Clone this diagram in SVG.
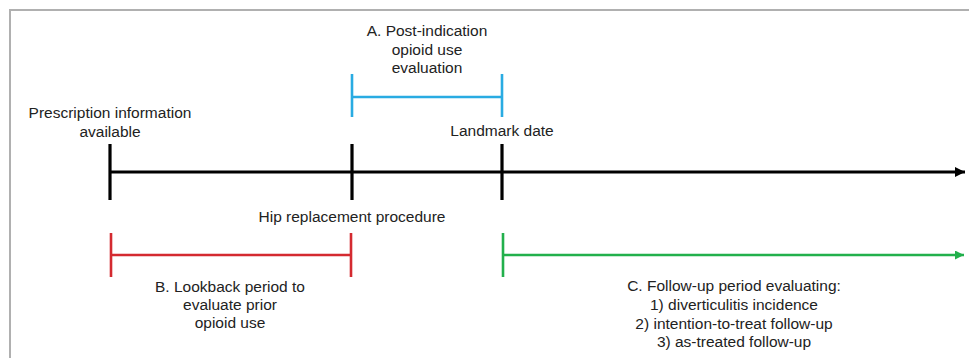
<svg xmlns="http://www.w3.org/2000/svg" width="969" height="358" viewBox="0 0 969 358">
<style>
text{font-family:"Liberation Sans",Arial,sans-serif;font-size:15.5px;fill:#222;text-anchor:middle}
.blk{stroke:#000;stroke-width:3.2;fill:none}
.blu{stroke:#29abe2;stroke-width:2.6;fill:none}
.red{stroke:#d42a30;stroke-width:2.6;fill:none}
.grn{stroke:#22b04c;stroke-width:2.6;fill:none}
</style>
<defs>
<marker id="ab" markerUnits="userSpaceOnUse" markerWidth="12" markerHeight="12" refX="10" refY="5" orient="auto"><polygon points="0,0 10,5 0,10" fill="#000"/></marker>
<marker id="ag" markerUnits="userSpaceOnUse" markerWidth="12" markerHeight="12" refX="9" refY="4.5" orient="auto"><polygon points="0,0 9,4.5 0,9" fill="#22b04c"/></marker>
</defs>
<rect x="10" y="10" width="970" height="360" fill="#fff" stroke="#b0b0b0" stroke-width="2"/>
<g id="connectors">
<line class="blk" x1="110" y1="172" x2="965" y2="172" marker-end="url(#ab)"/>
<line class="blu" x1="352" y1="97" x2="502" y2="97"/>
<line class="red" x1="111" y1="255" x2="351" y2="255"/>
<line class="grn" x1="503" y1="255" x2="964" y2="255" marker-end="url(#ag)"/>
</g>
<g id="prescription">
<line class="blk" x1="110" y1="144" x2="110" y2="200"/>
<text x="110" y="118">Prescription information</text>
<text x="110" y="137">available</text>
</g>
<g id="hip">
<line class="blk" x1="352" y1="144" x2="352" y2="200"/>
<text x="352" y="222">Hip replacement procedure</text>
</g>
<g id="landmark">
<line class="blk" x1="502" y1="144" x2="502" y2="200"/>
<text x="502" y="136">Landmark date</text>
</g>
<g id="periodA">
<line class="blu" x1="352" y1="74" x2="352" y2="117"/>
<line class="blu" x1="502" y1="74" x2="502" y2="117"/>
<text x="427" y="36">A. Post-indication</text>
<text x="427" y="54.5">opioid use</text>
<text x="427" y="73">evaluation</text>
</g>
<g id="periodB">
<line class="red" x1="111" y1="233" x2="111" y2="277"/>
<line class="red" x1="351" y1="233" x2="351" y2="277"/>
<text x="230" y="292">B. Lookback period to</text>
<text x="230" y="310">evaluate prior</text>
<text x="230" y="328">opioid use</text>
</g>
<g id="periodC">
<line class="grn" x1="503" y1="233" x2="503" y2="277"/>
<text x="734" y="291">C. Follow-up period evaluating:</text>
<text x="734" y="310">1) diverticulitis incidence</text>
<text x="734" y="328.5">2) intention-to-treat follow-up</text>
<text x="734" y="347">3) as-treated follow-up</text>
</g>
</svg>
